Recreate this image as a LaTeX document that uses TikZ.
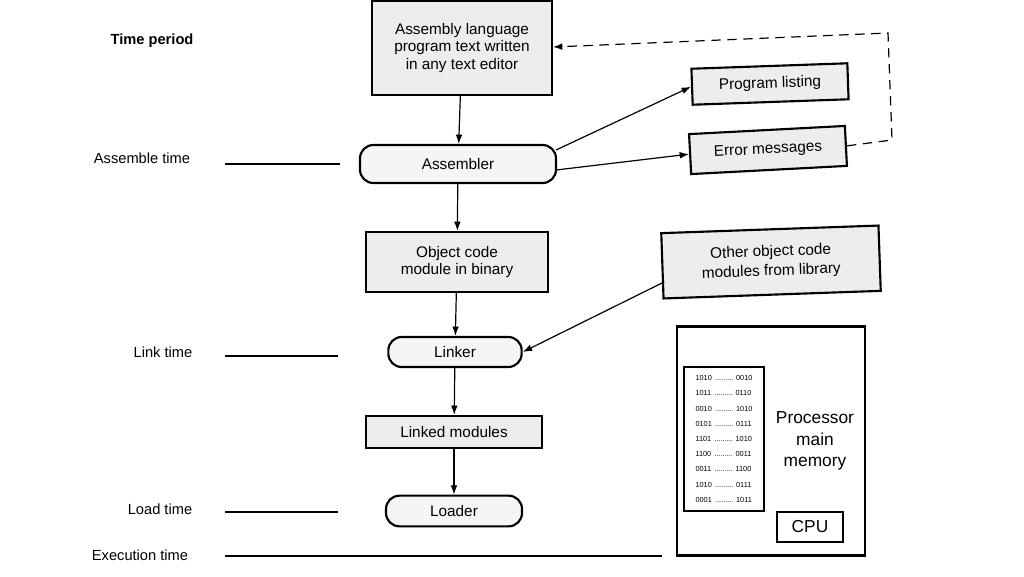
\documentclass[tikz,border=0pt]{standalone}
\usepackage{fontspec}
\setmainfont{Liberation Sans}
\usetikzlibrary{arrows.meta}
\begin{document}
\begin{tikzpicture}[x=0.75pt,y=-0.75pt,
  box/.style={draw,line width=1.6pt,fill=black!7,align=center,font=\fontsize{11.5}{13}\selectfont,inner sep=0pt},
  pill/.style={draw,line width=1.6pt,fill=red!3!black!4,rounded corners=10pt,align=center,font=\fontsize{11.5}{13}\selectfont,inner sep=0pt},
  lab/.style={font=\fontsize{11}{13}\selectfont},
  arr/.style={-{Latex[length=7pt,width=5pt]},line width=0.9pt},
  tl/.style={line width=0.9pt}]
\useasboundingbox (0,0) rectangle (1024,576);
\fill[white] (0,0) rectangle (1024,576);
\node[box,minimum width=135pt,minimum height=70pt] (src) at (462,48) {Assembly language\\program text written\\in any text editor};
\node[pill,minimum width=147pt,minimum height=28.5pt] (asm) at (458,164) {Assembler};
\node[box,minimum width=136pt,minimum height=45pt] (obj) at (457,262) {Object code\\module in binary};
\node[pill,minimum width=100pt,minimum height=22.5pt] (lnk) at (455,352) {Linker};
\node[box,minimum width=132pt,minimum height=24pt] (lm) at (454,432) {Linked modules};
\node[pill,minimum width=102pt,minimum height=23pt] (ldr) at (454,511) {Loader};
\node[box,minimum width=117pt,minimum height=27pt,rotate=2] (pl) at (770,84) {Program listing};
\node[box,minimum width=117pt,minimum height=30pt,rotate=3] (em) at (768,150) {Error messages};
\node[box,minimum width=163pt,minimum height=49pt,rotate=2,font=\fontsize{11.5}{14.5}\selectfont] (oth) at (771,262) {Other object code\\modules from library};
\node[draw,line width=1.8pt,minimum width=141pt,minimum height=172pt,inner sep=0pt] (proc) at (771,441) {};
\node[draw,line width=1.2pt,minimum width=60pt,minimum height=108pt,inner sep=0pt,
  font=\fontsize{5.5}{11.4}\selectfont,align=left] (mem) at (724,439)
  {1010 \,......... 0010\\1011 \,......... 0110\\0010 \,......... 1010\\0101 \,......... 0111\\1101 \,......... 1010\\1100 \,......... 0011\\0011 \,......... 1100\\1010 \,......... 0111\\0001 \,......... 1011};
\node[align=center,font=\fontsize{13}{16}\selectfont] (pmm) at (815,441) {Processor\\main\\memory};
\node[draw,line width=1.6pt,minimum width=49pt,minimum height=23pt,font=\fontsize{13}{15}\selectfont,inner sep=0pt] (cpu) at (810,527) {CPU};
\node[lab,font=\bfseries\fontsize{11}{13}\selectfont] (tp) at (152,41) {Time period};
\node[lab] (at) at (142,158) {Assemble time};
\node[lab] (lt) at (163,352) {Link time};
\node[lab] (ldt) at (160,509) {Load time};
\node[lab] (et) at (140,555) {Execution time};
\coordinate (a1) at (225,164); \coordinate (a2) at (340,164);
\coordinate (l1) at (225,356); \coordinate (l2) at (338,356);
\coordinate (d1) at (225,512); \coordinate (d2) at (338,512);
\coordinate (e1) at (225,556); \coordinate (e2) at (662,556);
\draw[tl] (a1)--(a2); \draw[tl] (l1)--(l2); \draw[tl] (d1)--(d2); \draw[tl] (e1)--(e2);
\draw[arr] (src) -- (asm);
\draw[arr] (asm) -- (obj);
\draw[arr] (obj) -- (lnk);
\draw[arr] (lnk) -- (lm);
\draw[arr] (lm) -- (ldr);
\coordinate (s1) at (556,150); \coordinate (s2) at (556,170); \coordinate (s3) at (664,282);
\draw[arr] (s1) -- (pl.west);
\draw[arr] (s2) -- (em.west);
\draw[arr] (s3) -- (lnk.east);
\coordinate (c1) at (892,140); \coordinate (c2) at (888,33); \coordinate (c3) at (553,47);
\draw[arr,dash pattern=on 7pt off 5pt] (em.east) -- (c1) -- (c2) -- (c3);
\end{tikzpicture}
\end{document}
